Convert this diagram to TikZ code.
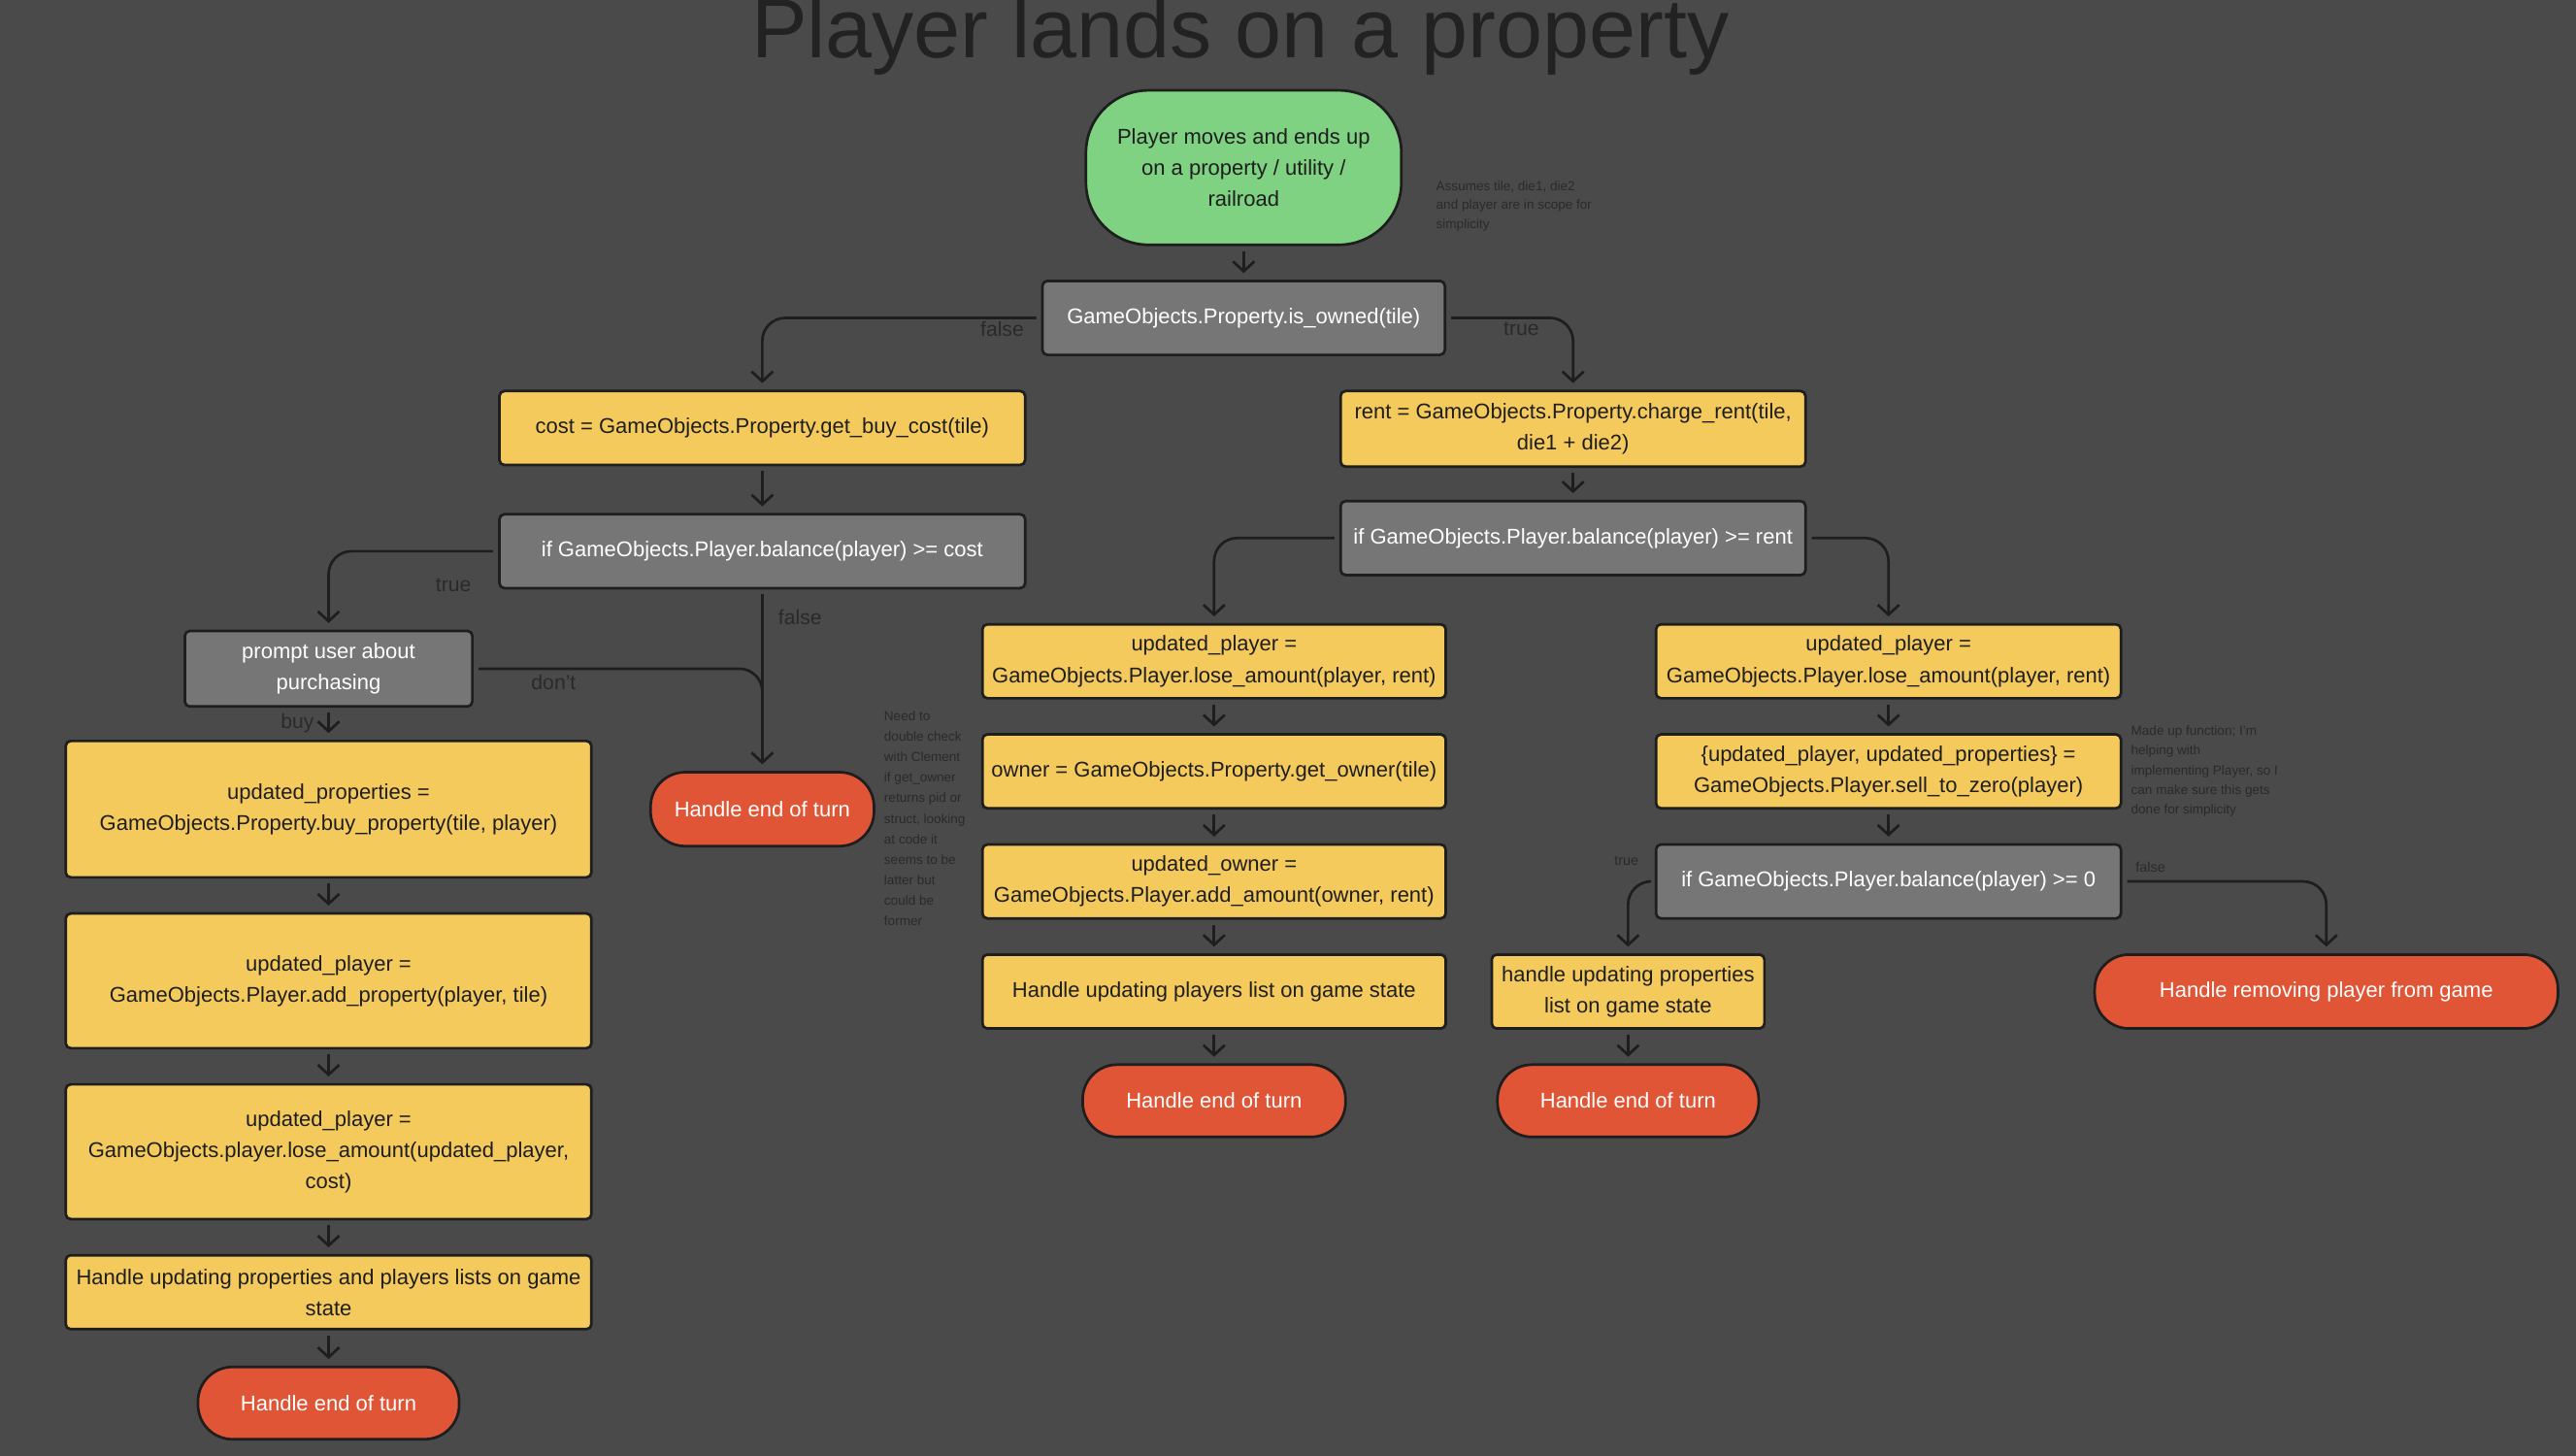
\documentclass[tikz,border=0pt]{standalone}
\usepackage{fontspec}
\setmainfont{Liberation Sans}
\usetikzlibrary{arrows.meta}
\definecolor{bg}{HTML}{4A4A4A}
\definecolor{ink}{HTML}{1E1E1E}
\definecolor{yel}{HTML}{F4CA5C}
\definecolor{gry}{HTML}{767676}
\definecolor{grn}{HTML}{7ED282}
\definecolor{redc}{HTML}{DF5535}
\definecolor{lab}{HTML}{2A2A2A}
\definecolor{ttl}{HTML}{222222}
\begin{document}
\begin{tikzpicture}[x=1pt,y=-1pt,
  base/.style={draw=ink, line width=1.6pt, rounded corners=3pt, align=center, inner sep=0pt, font=\fontsize{13}{19}\selectfont},
  ybox/.style={base, fill=yel, text=ink},
  gbox/.style={base, fill=gry, text=white},
  term/.style={base, fill=redc, text=white, rounded corners=21pt},
  startbox/.style={base, fill=grn, text=ink, rounded corners=38pt},
  arr/.style={draw=ink, line width=1.6pt, -{Straight Barb[length=6pt,width=13pt]}, shorten <=3pt, shorten >=4pt},
  elbow/.style={arr, rounded corners=14pt},
  conn/.style={draw=ink, line width=1.6pt, rounded corners=14pt, shorten <=3pt, shorten >=14pt},
  lbl/.style={text=lab, font=\fontsize{12.5}{14}\selectfont, inner sep=0pt},
  slbl/.style={text=lab, font=\fontsize{8.5}{10}\selectfont, inner sep=0pt},
  note/.style={text=lab, font=\fontsize{8}{12}\selectfont, align=left, inner sep=0pt, anchor=north west},
]
\fill[bg] (0,0) rectangle (1568,886);
\useasboundingbox (0,0) rectangle (1568,886);

\node[text=ttl, font=\fontsize{51}{51}\selectfont, anchor=base, inner sep=0pt] (title) at (755,35) {Player lands on a property};

\node[startbox, minimum width=192pt, minimum height=94pt] (start) at (757,102) {Player moves and ends up\\on a property / utility /\\railroad};
\node[note, font=\fontsize{8}{11.5}\selectfont] (n1) at (874,110) {Assumes tile, die1, die2\\and player are in scope for\\simplicity};

\node[gbox, minimum width=245pt, minimum height=45pt] (own) at (757,193.5) {GameObjects.Property.is\_owned(tile)};
\node[ybox, minimum width=320pt, minimum height=45pt] (cost) at (464,260.5) {cost = GameObjects.Property.get\_buy\_cost(tile)};
\node[ybox, minimum width=283pt, minimum height=46pt] (rent) at (957.5,261) {rent = GameObjects.Property.charge\_rent(tile,\\die1 + die2)};
\node[gbox, minimum width=320pt, minimum height=45pt] (balc) at (464,335.5) {if GameObjects.Player.balance(player) >= cost};
\node[gbox, minimum width=283pt, minimum height=45pt] (balr) at (957.5,327.5) {if GameObjects.Player.balance(player) >= rent};

% left column
\node[gbox, minimum width=175pt, minimum height=46pt] (prompt) at (200,407) {prompt user about\\purchasing};
\node[ybox, minimum width=320pt, minimum height=83pt] (buy) at (200,492.5) {updated\_properties =\\GameObjects.Property.buy\_property(tile, player)};
\node[ybox, minimum width=320pt, minimum height=82pt] (addp) at (200,597) {updated\_player =\\GameObjects.Player.add\_property(player, tile)};
\node[ybox, minimum width=320pt, minimum height=82pt] (losec) at (200,701) {updated\_player =\\GameObjects.player.lose\_amount(updated\_player,\\cost)};
\node[ybox, minimum width=320pt, minimum height=45pt] (updl) at (200,786.5) {Handle updating properties and players lists on game\\state};
\node[term, minimum width=159pt, minimum height=44pt] (endl) at (200,854) {Handle end of turn};
\node[term, minimum width=136pt, minimum height=45pt] (endm1) at (464,492.5) {Handle end of turn};

\node[note, font=\fontsize{8}{12.5}\selectfont] (n2) at (538,432.5) {Need to\\double check\\with Clement\\if get\_owner\\returns pid or\\struct, looking\\at code it\\seems to be\\latter but\\could be\\former};

% middle column
\node[ybox, minimum width=282pt, minimum height=45pt] (lose1) at (739,402.5) {updated\_player =\\GameObjects.Player.lose\_amount(player, rent)};
\node[ybox, minimum width=282pt, minimum height=45pt] (owner) at (739,469.5) {owner = GameObjects.Property.get\_owner(tile)};
\node[ybox, minimum width=282pt, minimum height=45pt] (adda) at (739,536.5) {updated\_owner =\\GameObjects.Player.add\_amount(owner, rent)};
\node[ybox, minimum width=282pt, minimum height=45pt] (updp) at (739,603.5) {Handle updating players list on game state};
\node[term, minimum width=160pt, minimum height=44pt] (endm2) at (739,670) {Handle end of turn};

% right column
\node[ybox, minimum width=283pt, minimum height=45pt] (lose2) at (1149.5,402.5) {updated\_player =\\GameObjects.Player.lose\_amount(player, rent)};
\node[ybox, minimum width=283pt, minimum height=45pt] (sell) at (1149.5,469.5) {\{updated\_player, updated\_properties\} =\\GameObjects.Player.sell\_to\_zero(player)};
\node[gbox, minimum width=283pt, minimum height=45pt] (bal0) at (1149.5,536.5) {if GameObjects.Player.balance(player) >= 0};
\node[ybox, minimum width=166pt, minimum height=45pt] (updpr) at (991,603.5) {handle updating properties\\list on game state};
\node[term, minimum width=159pt, minimum height=44pt] (endr) at (991,670) {Handle end of turn};
\node[term, minimum width=282pt, minimum height=45pt] (remove) at (1416,603.5) {Handle removing player from game};

\node[note, font=\fontsize{8}{12}\selectfont] (n3) at (1297,441.5) {Made up function; I'm\\helping with\\implementing Player, so I\\can make sure this gets\\done for simplicity};

% connectors
\draw[arr] (start) -- (own);
\draw[elbow] (own.west) -| (cost.north);
\draw[elbow] (own.east) -| (rent.north);
\draw[arr] (cost) -- (balc);
\draw[arr] (rent) -- (balr);
\draw[elbow] (balc.west) -| (prompt.north);
\draw[arr] (balc) -- (endm1);
\draw[conn] (prompt.east) -| (endm1.north);
\draw[arr] (prompt) -- (buy);
\draw[arr] (buy) -- (addp);
\draw[arr] (addp) -- (losec);
\draw[arr] (losec) -- (updl);
\draw[arr] (updl) -- (endl);
\draw[elbow] (balr.west) -| (lose1.north);
\draw[elbow] (balr.east) -| (lose2.north);
\draw[arr] (lose1) -- (owner);
\draw[arr] (owner) -- (adda);
\draw[arr] (adda) -- (updp);
\draw[arr] (updp) -- (endm2);
\draw[arr] (lose2) -- (sell);
\draw[arr] (sell) -- (bal0);
\draw[elbow] (bal0.west) -| (updpr.north);
\draw[elbow] (bal0.east) -| (remove.north);
\draw[arr] (updpr) -- (endr);

% labels
\node[lbl] (lf1) at (610,200) {false};
\node[lbl] (lt1) at (926,200) {true};
\node[lbl] (lt2) at (276,356) {true};
\node[lbl] (lf2) at (487,376) {false};
\node[lbl] (ldont) at (337,415) {don't};
\node[lbl] (lbuy) at (181,440) {buy};
\node[slbl] (lt3) at (990,524) {true};
\node[slbl] (lf3) at (1309,528) {false};
\end{tikzpicture}
\end{document}
